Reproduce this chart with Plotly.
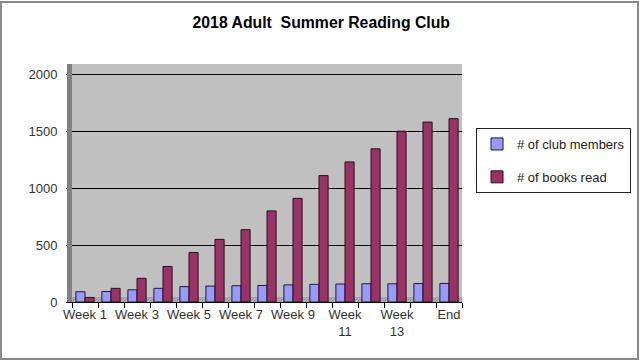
import plotly.graph_objects as go

categories = ["Week 1", "Week 2", "Week 3", "Week 4", "Week 5", "Week 6", "Week 7",
              "Week 8", "Week 9", "Week 10", "Week 11", "Week 12", "Week 13", "Week 14", "End"]
club_members = [90, 92, 107, 120, 135, 140, 143, 145, 150, 155, 158, 160, 160, 162, 163]
books_read = [40, 120, 208, 312, 435, 550, 635, 800, 910, 1110, 1230, 1345, 1500, 1580, 1610]
tick_text = ["Week 1", "", "Week 3", "", "Week 5", "", "Week 7", "", "Week 9", "",
             "Week<br>11", "", "Week<br>13", "", "End"]
y_ticks = [0, 500, 1000, 1500, 2000]

FONT = "Liberation Sans, Arial, sans-serif"

fig = go.Figure()
fig.add_trace(go.Bar(x=categories, y=club_members, name="# of club members",
                     marker=dict(color="#9999FF", line=dict(color="#1a1a33", width=1)),
                     legendgroup="a"))
fig.add_trace(go.Bar(x=categories, y=books_read, name="# of books read",
                     marker=dict(color="#993366", line=dict(color="#2a0f1c", width=1)),
                     legendgroup="b"))

fig.update_layout(
    width=640, height=360,
    paper_bgcolor="white", plot_bgcolor="#C0C0C0",
    margin=dict(l=72, r=178, t=64, b=58),
    barmode="group", bargap=0.3, bargroupgap=0.0,
    font=dict(family=FONT, size=13, color="#222222"),
    title=dict(text="<b>2018 Adult  Summer Reading Club</b>", x=0.502, xref="container",
               y=1 - 22 / 360, yref="container", xanchor="center", yanchor="middle",
               font=dict(family=FONT, size=15.8, color="black")),
    xaxis=dict(type="category", tickmode="array", tickvals=categories, ticktext=tick_text,
               tickson="boundaries", ticks="outside", ticklen=5, tickcolor="black",
               showline=True, linecolor="black", linewidth=1, showgrid=False,
               tickfont=dict(size=13, color="#333333"), tickangle=0, automargin=False),
    yaxis=dict(range=[0, 2090], tickvals=y_ticks, ticks="outside", ticklen=5,
               tickcolor="black", showline=True, linecolor="black", linewidth=1,
               showgrid=True, gridcolor="black", gridwidth=1, zeroline=False,
               tickfont=dict(size=13, color="#333333"), automargin=False,
               ticklabelstandoff=6),
    legend=dict(xref="container", yref="container", x=476 / 640, y=1 - 128 / 360,
                xanchor="left", yanchor="top", bordercolor="#222222", borderwidth=1,
                bgcolor="white", tracegroupgap=13, font=dict(size=13, color="#222222"),
                itemwidth=30, traceorder="grouped"),
    showlegend=True,
    shapes=[
        # left side wall
        dict(type="rect", xref="paper", yref="paper", xsizemode="pixel", xanchor=0,
             x0=-5, x1=0, y0=0, y1=1, fillcolor="#808080", line=dict(width=0), layer="above"),
        # floor strip
        dict(type="rect", xref="paper", yref="y", ysizemode="pixel", yanchor=0,
             x0=0, x1=1, y0=0, y1=5, fillcolor="#A6A6A6", line=dict(width=0), layer="below"),
        # outer border
        dict(type="rect", xref="paper", yref="paper", xsizemode="pixel", ysizemode="pixel",
             xanchor=0, yanchor=0, x0=-71, x1=566, y0=-57, y1=300,
             line=dict(color="#8a8a8a", width=2), layer="above"),
    ],
)

fig.write_html("out.html", config={"displayModeBar": False},
               post_script="document.body.style.margin='0';")
